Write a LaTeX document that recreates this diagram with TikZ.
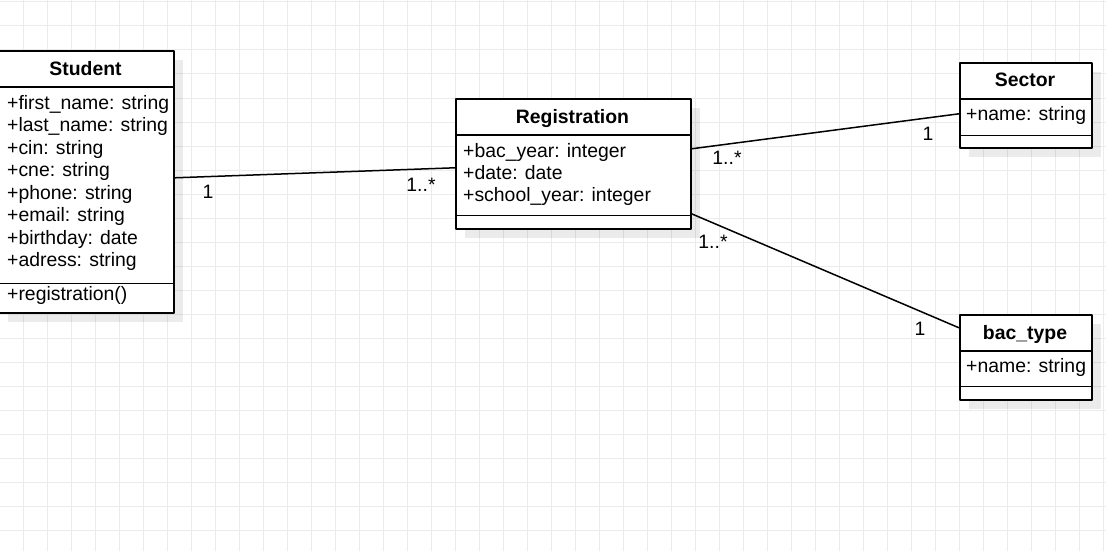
\documentclass[tikz,border=0pt]{standalone}
\usepackage{fontspec}
\setmainfont{Liberation Sans}
\usetikzlibrary{shadows}
\begin{document}
\begin{tikzpicture}[x=1pt,y=-1pt,line join=round,
	font=\fontsize{19.4}{22.6}\selectfont,
	gridline/.style={draw=black!8,line width=1pt},
	cls/.style={draw,line width=1.6pt,fill=white,inner sep=0pt,anchor=north west,
		drop shadow={shadow xshift=9pt,shadow yshift=-9pt,fill=black,opacity=0.08}},
	sep/.style={line width=1.6pt},
	title/.style={font=\fontsize{19.4}{22.6}\selectfont\bfseries,anchor=base,inner sep=0pt},
	attr/.style={anchor=base west,inner sep=0pt},
	assoc/.style={line width=1.5pt},
	mult/.style={inner sep=0pt}]
	\useasboundingbox (0,0) rectangle (1106,551);
	\clip (0,0) rectangle (1106,551);
	\fill[white] (0,0) rectangle (1106,551);
	\foreach \x in {23,47,...,1103} \draw[gridline] (\x,0)--(\x,551);
	\foreach \y in {2,26,...,550} \draw[gridline] (0,\y)--(1106,\y);
	% classes
	\node[cls,minimum width=175pt,minimum height=262pt] (student) at (-2,50) {};
	\draw[sep] ([yshift=-37pt]student.north west)--([yshift=-37pt]student.north east);
	\draw[sep] ([yshift=30pt]student.south west)--([yshift=30pt]student.south east);
	\node[title] (studentname) at (85.5,75) {Student};
	\foreach \a [count=\i] in {first\_name: string,last\_name: string,cin: string,cne: string,phone: string,email: string,birthday: date,adress: string}
		\node[attr] (studentattr\i) at (7,{109+(\i-1)*22.5}) {+\a};
	\node[attr] (studentop) at (7,300) {+registration()};

	\node[cls,minimum width=235pt,minimum height=130pt] (reg) at (455,98) {};
	\draw[sep] ([yshift=-37pt]reg.north west)--([yshift=-37pt]reg.north east);
	\draw[sep] ([yshift=14pt]reg.south west)--([yshift=14pt]reg.south east);
	\node[title] (regname) at (572.5,123) {Registration};
	\foreach \a [count=\i] in {bac\_year: integer,date: date,school\_year: integer}
		\node[attr] (regattr\i) at (463,{157+(\i-1)*22}) {+\a};

	\node[cls,minimum width=132pt,minimum height=85pt] (sector) at (959,62) {};
	\draw[sep] ([yshift=-37pt]sector.north west)--([yshift=-37pt]sector.north east);
	\draw[sep] ([yshift=13pt]sector.south west)--([yshift=13pt]sector.south east);
	\node[title] (sectorname) at (1025,87) {Sector};
	\node[attr] (sectorattr) at (966,121) {+name: string};

	\node[cls,minimum width=132pt,minimum height=85pt] (bactype) at (959,314) {};
	\draw[sep] ([yshift=-37pt]bactype.north west)--([yshift=-37pt]bactype.north east);
	\draw[sep] ([yshift=14pt]bactype.south west)--([yshift=14pt]bactype.south east);
	\node[title] (bactypename) at (1025,339) {bac\_type};
	\node[attr] (bactypeattr) at (966,372) {+name: string};

	% associations
	\draw[assoc] ([yshift=4pt]student.east)--([yshift=-4pt]reg.west);
	\draw[assoc] ([yshift=15pt]reg.east)--([yshift=-8.5pt]sector.west);
	\draw[assoc] ([yshift=-50pt]reg.east)--([yshift=29.5pt]bactype.west);
	\node[mult] (m1) at (208,192) {1};
	\node[mult] (m2) at (421,185) {1..*};
	\node[mult] (m3) at (727,158) {1..*};
	\node[mult] (m4) at (928,134) {1};
	\node[mult] (m5) at (713,242) {1..*};
	\node[mult] (m6) at (920,329) {1};
\end{tikzpicture}
\end{document}
